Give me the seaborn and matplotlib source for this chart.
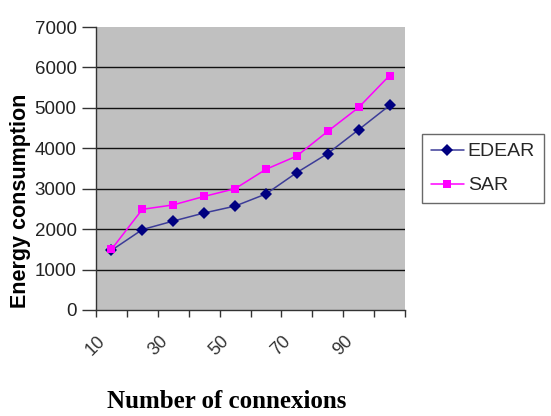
import matplotlib
matplotlib.use("Agg")
import matplotlib.pyplot as plt
import seaborn as sns
import pandas as pd

connexions = [10, 20, 30, 40, 50, 60, 70, 80, 90, 100]
edear = [1475, 1990, 2200, 2400, 2570, 2870, 3400, 3870, 4460, 5060]
sar = [1500, 2490, 2600, 2810, 3000, 3480, 3810, 4420, 5010, 5800]
series_names = ["EDEAR", "SAR"]
y_ticks = [0, 1000, 2000, 3000, 4000, 5000, 6000, 7000]

df = pd.DataFrame({
    "connexions": connexions * 2,
    "energy": edear + sar,
    "series": [series_names[0]] * len(edear) + [series_names[1]] * len(sar),
})

sns.set_style("white")
plt.rcParams["font.family"] = ["Liberation Sans", "DejaVu Sans"]

W, H = 551, 416
fig = plt.figure(figsize=(W / 100, H / 100), dpi=100)
left, right, top, bottom = 96, 405, 27, 310
ax = fig.add_axes([left / W, 1 - bottom / H, (right - left) / W, (bottom - top) / H])
ax.set_facecolor("#C0C0C0")

marker_colors = {"EDEAR": "#000080", "SAR": "#FF00FF"}
line_colors = {"EDEAR": "#3c3c98", "SAR": "#FF00FF"}

sns.lineplot(
    data=df, x="connexions", y="energy", hue="series", style="series",
    markers={"EDEAR": "D", "SAR": "s"}, dashes=False,
    palette=marker_colors,
    markersize=6, linewidth=1.1, markeredgewidth=0, ax=ax,
)

handles, labs = ax.get_legend_handles_labels()
ax.get_legend().remove()

for ln, name in zip(ax.lines[:2], series_names):
    ln.set_color(line_colors[name])
    ln.set_markerfacecolor(marker_colors[name])
    ln.set_markeredgecolor(marker_colors[name])
for h, name in zip(handles, labs):
    h.set_color(line_colors[name])
    h.set_markerfacecolor(marker_colors[name])
    h.set_markeredgecolor(marker_colors[name])

step = connexions[1] - connexions[0]
ax.set_xlim(connexions[0] - step / 2, connexions[-1] + step / 2)
ax.set_ylim(y_ticks[0], y_ticks[-1])
ax.set_yticks(y_ticks)
ax.set_yticklabels([str(v) for v in y_ticks])

bounds = [c - step / 2 for c in connexions] + [connexions[-1] + step / 2]
labels = [str(c) if i % 2 == 0 else "" for i, c in enumerate(connexions)] + [""]
ax.set_xticks(bounds)
ax.set_xticklabels(labels, rotation=45, ha="center", color="#333333", fontsize=13)

ax.tick_params(axis="y", direction="out", length=10, width=1, color="#333333",
               labelsize=13.5, labelcolor="#222222", pad=4, left=True)
ax.tick_params(axis="x", direction="out", length=5, width=1, color="#333333",
               pad=11, bottom=True)

ax.yaxis.grid(True, color="#111111", linewidth=1)
ax.xaxis.grid(False)
gl = ax.get_ygridlines()
gl[0].set_visible(False)
gl[-1].set_visible(False)

for s in ["top", "right"]:
    ax.spines[s].set_visible(False)
for s in ["left", "bottom"]:
    ax.spines[s].set_color("#333333")
    ax.spines[s].set_linewidth(1)

ax.set_xlabel("")
ax.set_ylabel("")

leg = ax.legend(handles, labs, loc="upper left",
                bbox_to_anchor=(422 / W, 1 - 134 / H), bbox_transform=fig.transFigure,
                borderaxespad=0, frameon=True, fancybox=False, fontsize=14,
                handlelength=1.7, labelspacing=0.85, borderpad=0.45, handletextpad=0.2)
leg.get_frame().set_edgecolor("#444444")
leg.get_frame().set_linewidth(1)

fig.text(21 / W, 1 - 201 / H, "Energy consumption", rotation=90, ha="center", va="center",
         fontsize=15.5, fontweight="bold", color="black")
fig.text(227 / W, 1 - 402 / H, "Number of connexions", ha="center", va="center",
         fontsize=18, fontweight="bold", family=["Liberation Serif", "DejaVu Serif"], color="black")

fig.savefig("out.png", dpi=100)
